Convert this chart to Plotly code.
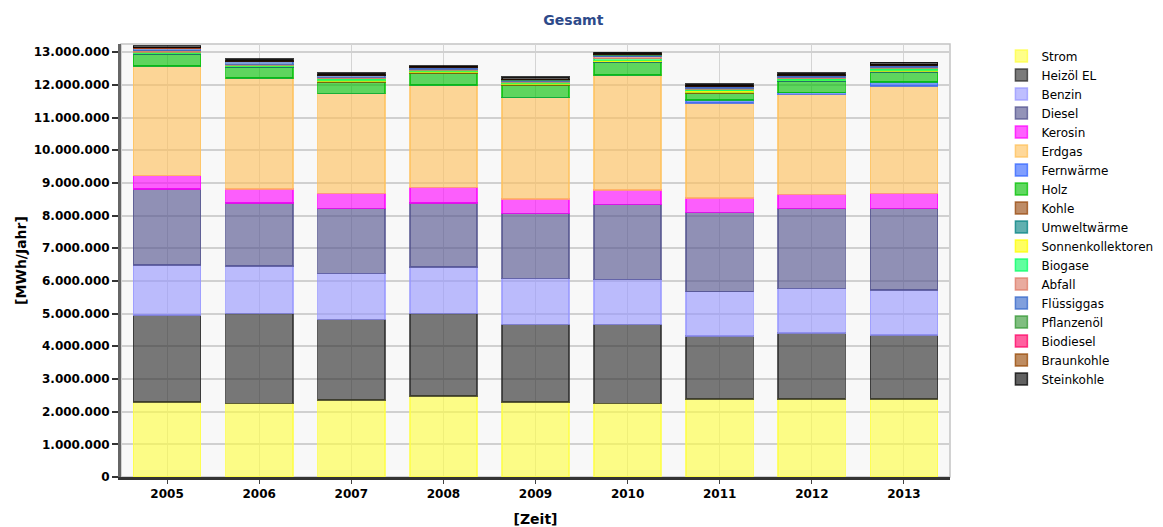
import plotly.graph_objects as go

years = ["2005", "2006", "2007", "2008", "2009", "2010", "2011", "2012", "2013"]

strom            = [2.29e6, 2.25e6, 2.36e6, 2.48e6, 2.30e6, 2.25e6, 2.39e6, 2.38e6, 2.38e6]
heizoel_el       = [2.67e6, 2.76e6, 2.46e6, 2.53e6, 2.37e6, 2.42e6, 1.92e6, 2.03e6, 1.96e6]
benzin           = [1.53e6, 1.44e6, 1.41e6, 1.42e6, 1.41e6, 1.38e6, 1.36e6, 1.36e6, 1.38e6]
diesel           = [2.32e6, 1.94e6, 1.99e6, 1.96e6, 1.99e6, 2.29e6, 2.43e6, 2.45e6, 2.50e6]
kerosin          = [0.41e6, 0.42e6, 0.46e6, 0.47e6, 0.43e6, 0.44e6, 0.44e6, 0.43e6, 0.46e6]
erdgas           = [3.36e6, 3.40e6, 3.06e6, 3.13e6, 3.11e6, 3.52e6, 2.91e6, 3.06e6, 3.29e6]
fernwaerme       = [0.00e6, 0.00e6, 0.00e6, 0.00e6, 0.01e6, 0.00e6, 0.08e6, 0.05e6, 0.12e6]
holz             = [0.36e6, 0.33e6, 0.35e6, 0.38e6, 0.38e6, 0.38e6, 0.22e6, 0.34e6, 0.29e6]
kohle            = [0.01e6, 0.01e6, 0.01e6, 0.01e6, 0.01e6, 0.01e6, 0.01e6, 0.01e6, 0.01e6]
umweltwaerme     = [0.01e6, 0.01e6, 0.02e6, 0.02e6, 0.02e6, 0.02e6, 0.02e6, 0.02e6, 0.02e6]
sonnenkollektor  = [0.02e6, 0.02e6, 0.03e6, 0.02e6, 0.02e6, 0.04e6, 0.04e6, 0.02e6, 0.04e6]
biogase          = [0.02e6, 0.02e6, 0.04e6, 0.03e6, 0.03e6, 0.05e6, 0.06e6, 0.04e6, 0.07e6]
abfall           = [0.05e6, 0.03e6, 0.04e6, 0.04e6, 0.04e6, 0.06e6, 0.02e6, 0.05e6, 0.02e6]
fluessiggas      = [0.07e6, 0.08e6, 0.05e6, 0.04e6, 0.03e6, 0.06e6, 0.05e6, 0.04e6, 0.05e6]
pflanzenoel      = [0.01e6, 0.005e6, 0.01e6, 0.01e6, 0.01e6, 0.01e6, 0.01e6, 0.01e6, 0.01e6]
biodiesel        = [0.0, 0.0, 0.0, 0.0, 0.0, 0.005e6, 0.0, 0.0, 0.0]
braunkohle       = [0.01e6, 0.01e6, 0.01e6, 0.01e6, 0.01e6, 0.01e6, 0.01e6, 0.01e6, 0.01e6]
steinkohle       = [0.06e6, 0.06e6, 0.06e6, 0.02e6, 0.07e6, 0.05e6, 0.05e6, 0.06e6, 0.08e6]

series = [
    ("Strom", strom, "255,255,64"),
    ("Heizöl EL", heizoel_el, "40,40,40"),
    ("Benzin", benzin, "150,150,255"),
    ("Diesel", diesel, "80,80,140"),
    ("Kerosin", kerosin, "255,0,255"),
    ("Erdgas", erdgas, "255,192,90"),
    ("Fernwärme", fernwaerme, "50,100,255"),
    ("Holz", holz, "0,192,0"),
    ("Kohle", kohle, "150,70,10"),
    ("Umweltwärme", umweltwaerme, "0,128,128"),
    ("Sonnenkollektoren", sonnenkollektor, "255,255,0"),
    ("Biogase", biogase, "0,255,100"),
    ("Abfall", abfall, "220,120,100"),
    ("Flüssiggas", fluessiggas, "50,100,200"),
    ("Pflanzenöl", pflanzenoel, "50,150,50"),
    ("Biodiesel", biodiesel, "255,0,100"),
    ("Braunkohle", braunkohle, "150,70,0"),
    ("Steinkohle", steinkohle, "0,0,0"),
]

fig = go.Figure()
for name, vals, rgb in series:
    fig.add_trace(go.Bar(
        x=years, y=vals, name=name,
        marker=dict(color=f"rgba({rgb},0.62)",
                    line=dict(color=f"rgba({rgb},0.75)", width=1.5)),
    ))

font = "DejaVu Sans"
tickfont = dict(family=font, size=12, color="black", weight="bold")
fig.update_layout(
    barmode="stack",
    bargap=0.27,
    width=1163, height=527,
    margin=dict(l=121, r=213, t=44, b=50, autoexpand=False),
    paper_bgcolor="white",
    plot_bgcolor="#f8f8f8",
    separators=",.",
    font=dict(family=font, size=11, color="black"),
    title=dict(text="<b>Gesamt</b>", x=0.493, xanchor="center", y=0.962, yanchor="middle",
               font=dict(family=font, size=14, color="#2d4a8a")),
    legend=dict(traceorder="normal", x=1.062, xanchor="left", y=1.006, yanchor="top",
                font=dict(family=font, size=12, color="black"),
                maxheight=480, itemwidth=30, tracegroupgap=0, bgcolor="rgba(0,0,0,0)"),
    xaxis=dict(
        range=[-0.5, 8.5], showgrid=True, gridcolor="#d4d4d4", gridwidth=1,
        ticks="outside", ticklen=4, tickcolor="#444", automargin=False,
        showline=True, linecolor="#333", linewidth=3,
        title=dict(text="<b>[Zeit]</b>", font=dict(family=font, size=14), standoff=15),
        tickfont=tickfont,
    ),
    yaxis=dict(
        range=[0, 13.25e6], dtick=1e6, tickformat=",d", automargin=False,
        showgrid=True, gridcolor="#d0d0d0", gridwidth=2,
        ticks="outside", ticklen=6, tickcolor="#333", tickwidth=2,
        showline=True, linecolor="#666", linewidth=3,
        zeroline=False,
        title=dict(text="<b>[MWh/Jahr]</b>", font=dict(family=font, size=14), standoff=4),
        tickfont=tickfont,
    ),
)
fig.add_shape(type="rect", xref="paper", yref="paper", x0=0, x1=1, y0=0, y1=1,
              line=dict(color="#c4c4c4", width=1.5), layer="below")

fig.write_html("out.html", config={"displayModeBar": False},
               post_script="document.body.style.margin='0';document.body.style.overflow='hidden';")
